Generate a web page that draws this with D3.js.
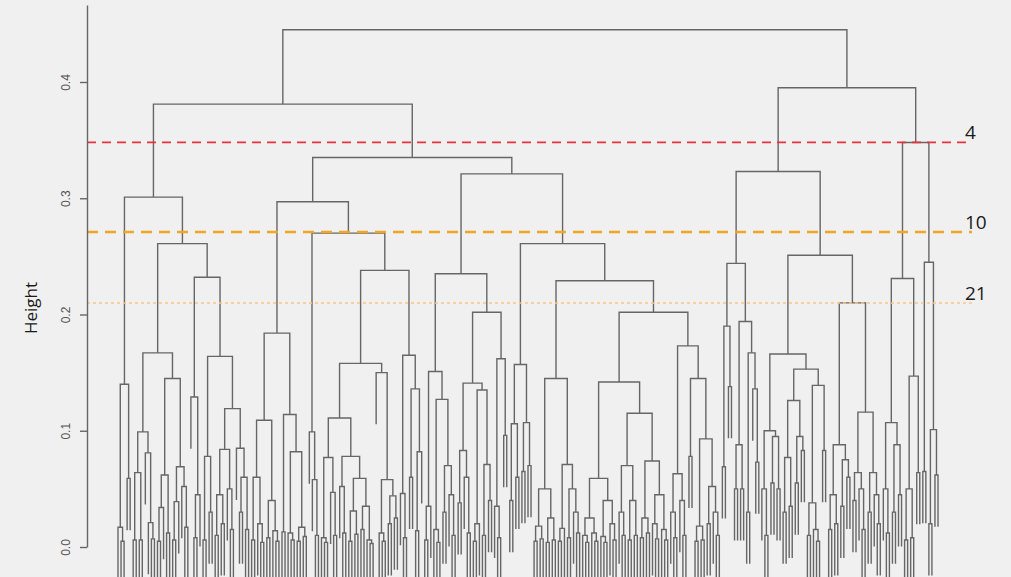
<!DOCTYPE html>
<html>
<head>
<meta charset="utf-8">
<script src="https://cdn.jsdelivr.net/npm/d3@7"></script>
<style>
  body { margin: 0; background: #f0f0f0; overflow: hidden; }
  svg { display: block; }
</style>
</head>
<body>
<svg id="chart" width="1011" height="577"></svg>
<script>
const o = null; // a leaf

// subtrees, left to right, written as [height, left, right]
const A1 = [0.140, [0.017, o, [0.005, o, o]], [0.059, o, o]];
const A2a = [0.167,
  [0.099, [0.064, [0.006, o, o], [0.006, o, o]], [0.081, o, [0.021, o, [0.007, o, o]]]],
  [0.145, [0.062, [0.034, [0.005, o, o], o], [0.012, o, o]], [0.069, [0.039, [0.006, o, o], o], [0.052, o, [0.017, o, o]]]]];
const A2b = [0.232,
  [0.129, o, [0.045, [0.008, o, o], o]],
  [0.164, [0.078, [0.006, o, o], [0.030, o, o]],
    [0.119, [0.084, [0.045, [0.010, o, o], [0.020, o, o]], [0.050, o, [0.015, o, o]]],
      [0.085, o, [0.060, [0.030, o, o], [0.015, o, o]]]]]];

const B1a = [0.184,
  [0.109, [0.060, [0.006, o, o], [0.020, o, [0.004, o, o]]], [0.040, [0.008, o, o], [0.014, o, [0.005, o, o]]]],
  [0.114, [0.013, o, o], [0.082, [0.012, o, [0.006, o, o]], [0.017, [0.005, o, o], [0.009, o, o]]]]];
const B1bL = [0.099, o, [0.058, o, [0.010, o, o]]];
const C338 = [0.111,
  [0.077, [0.008, o, [0.004, o, o]], [0.047, o, [0.010, o, o]]],
  [0.078, [0.052, o, [0.012, o, o]], [0.059, [0.031, [0.005, o, o], [0.011, o, o]], [0.035, [0.015, o, o], [0.006, o, [0.003, o, o]]]]]];
const C387 = [0.150, o, [0.058, [0.012, o, [0.005, o, o]], [0.044, [0.020, o, o], [0.025, o, o]]]];
const C413 = [0.165, [0.046, o, [0.008, o, o]], [0.136, [0.060, o, o], [0.082, [0.014, o, o], o]]];

const B2aL = [0.151, [0.035, [0.006, o, o], o],
  [0.127, [0.015, o, [0.004, o, o]], [0.070, [0.030, o, o], [0.045, o, [0.010, o, o]]]]];
const C471 = [0.141, [0.083, [0.038, o, o], [0.060, o, [0.012, o, o]]],
  [0.135, [0.020, [0.005, o, o], o], [0.071, [0.010, o, o], [0.040, o, o]]]];
const C502 = [0.162, [0.035, o, [0.008, o, o]], [0.096, o, o]];
const B2bL = [0.157, [0.106, [0.040, o, o], [0.060, o, o]], [0.107, [0.065, o, o], [0.070, o, o]]];
const C555 = [0.145,
  [0.050, [0.018, [0.005, o, o], [0.007, o, o]], [0.025, [0.004, o, o], [0.006, o, o]]],
  [0.071, [0.016, [0.005, o, o], o], [0.050, [0.008, o, o], [0.030, o, [0.012, o, o]]]]];
const C605 = [0.059, [0.025, [0.010, o, [0.004, o, o]], [0.012, o, [0.005, o, o]]],
  [0.040, [0.009, o, [0.004, o, o]], [0.020, o, [0.006, o, o]]]];
const C646 = [0.115,
  [0.070, [0.030, o, [0.010, o, o]], [0.040, [0.006, o, o], [0.010, o, o]]],
  [0.074, [0.025, [0.008, o, o], [0.012, o, o]], [0.045, [0.020, o, [0.007, o, o]], [0.015, o, [0.006, o, o]]]]];
const C678 = [0.063, [0.030, o, [0.008, o, o]], [0.040, o, [0.010, o, o]]];
const C693 = [0.145, [0.078, o, o],
  [0.093, [0.018, [0.005, o, o], [0.006, o, o]], [0.052, [0.020, o, o], [0.030, o, [0.010, o, o]]]]];

const C1 = [0.244,
  [0.190, [0.069, o, o], [0.138, o, o]],
  [0.194, [0.088, [0.050, o, o], [0.050, o, o]], [0.167, [0.030, o, o], [0.136, o, [0.073, o, o]]]]];
const C2L = [0.166,
  [0.100, [0.050, o, [0.010, o, o]], [0.095, [0.055, o, o], [0.050, o, o]]],
  [0.153, [0.126, [0.077, [0.030, o, o], [0.035, o, o]], [0.095, [0.055, o, o], [0.083, o, o]]],
    [0.139, [0.038, [0.010, o, o], [0.015, o, [0.005, o, o]]], [0.083, o, o]]]];
const C2R = [0.210,
  [0.088, [0.045, [0.015, o, o], [0.020, o, o]], [0.075, [0.035, o, o], [0.060, o, o]]],
  [0.116, [0.064, [0.040, o, o], [0.050, o, [0.015, o, o]]], [0.064, [0.030, o, o], [0.045, o, [0.020, o, o]]]]];
const DL = [0.231,
  [0.107, [0.050, o, [0.012, o, o]], [0.088, [0.030, o, o], [0.045, o, o]]],
  [0.147, [0.050, [0.006, o, o], [0.008, o, o]], [0.064, o, o]]];
const DR = [0.245, [0.065, o, o], [0.101, [0.020, o, o], [0.062, o, o]]];

// upper merges
const A = [0.301, A1, [0.261, A2a, A2b]];
const B1 = [0.297, B1a, [0.270, B1bL, [0.238, [0.158, C338, C387], C413]]];
const B2 = [0.321, [0.235, B2aL, [0.202, C471, C502]],
  [0.261, B2bL, [0.229, C555, [0.202, [0.142, C605, C646], [0.173, C678, C693]]]]];
const C = [0.323, C1, [0.251, C2L, C2R]];
const D = [0.348, DL, DR];
const tree = [0.445, [0.381, A, [0.335, B1, B2]], [0.395, C, D]];

const yTicks = [0, 0.1, 0.2, 0.3, 0.4];
const cutHeights = [0.348, 0.271, 0.21];
const cutLabels = ["4", "10", "21"];
const hang = 0.0445;

const svg = d3.select("#chart");

const root = d3.hierarchy(tree, d => Array.isArray(d) ? d.slice(1) : null);
const leaves = root.leaves();
console.log("leaves", leaves.length);

const x = d3.scaleLinear().domain([0, leaves.length - 1]).range([118, 938]);
const y = d3.scaleLinear().domain([0, 0.4]).range([547, 82]);

leaves.forEach((n, i) => { n.x = x(i); });
root.eachAfter(n => {
  if (n.children) {
    n.h = n.data[0];
    n.x = d3.mean(n.children, c => c.x);
  }
});
leaves.forEach(n => { n.h = n.parent.data[0] - hang; });

// dendrogram branches
svg.append("g")
    .attr("class", "branches")
  .selectAll("path")
  .data(root.descendants().filter(n => n.children))
  .join("path")
    .attr("d", n => {
      const [l, r] = n.children;
      return `M${l.x},${y(l.h)}V${y(n.h)}H${r.x}V${y(r.h)}`;
    })
    .attr("fill", "none")
    .attr("stroke", "#666")
    .attr("stroke-width", 1.4);

// cut lines
const cutStyles = [
  {color: "#e8323c", dash: "9,6", width: 1.8},
  {color: "#f0a528", dash: "11,7", width: 2.4},
  {color: "#f6c585", dash: "3,3", width: 1.5}
];
const xEnd = 972;
svg.append("g")
    .attr("class", "cuts")
  .selectAll("line")
  .data(cutHeights)
  .join("line")
    .attr("x1", 87)
    .attr("x2", xEnd)
    .attr("y1", d => y(d))
    .attr("y2", d => y(d))
    .attr("stroke", (d, i) => cutStyles[i].color)
    .attr("stroke-dasharray", (d, i) => cutStyles[i].dash)
    .attr("stroke-width", (d, i) => cutStyles[i].width);

svg.append("g")
    .attr("class", "cut-labels")
  .selectAll("text")
  .data(cutHeights)
  .join("text")
    .attr("x", 965)
    .attr("y", d => y(d) - 3)
    .text((d, i) => cutLabels[i])
    .attr("fill", "#1a1a1a")
    .style("font-family", "'Open Sans', sans-serif")
    .style("font-size", "19px");

// y axis
const yAxisScale = y.copy().domain([0, y.invert(5)]).range([y(0), 5]);
const axis = svg.append("g")
    .attr("transform", "translate(87,0)")
    .call(d3.axisLeft(yAxisScale).tickValues(yTicks).tickFormat(d3.format(".1f")).tickSize(7).tickSizeOuter(0));
axis.select(".domain").attr("stroke", "#666").attr("stroke-width", 1.4);
axis.selectAll(".tick line").attr("stroke", "#666").attr("stroke-width", 1.4);
axis.selectAll(".tick text")
    .attr("transform", "rotate(-90)")
    .attr("x", 0)
    .attr("y", -21)
    .attr("dy", "0.32em")
    .attr("text-anchor", "middle")
    .attr("fill", "#555")
    .style("font-family", "'Liberation Sans', Arial, sans-serif")
    .style("font-size", "12px");

svg.append("text")
    .text("Height")
    .attr("transform", "translate(37,308) rotate(-90)")
    .attr("text-anchor", "middle")
    .attr("fill", "#1a1a1a")
    .style("font-family", "'Open Sans', sans-serif")
    .style("font-size", "17px");
</script>
</body>
</html>
